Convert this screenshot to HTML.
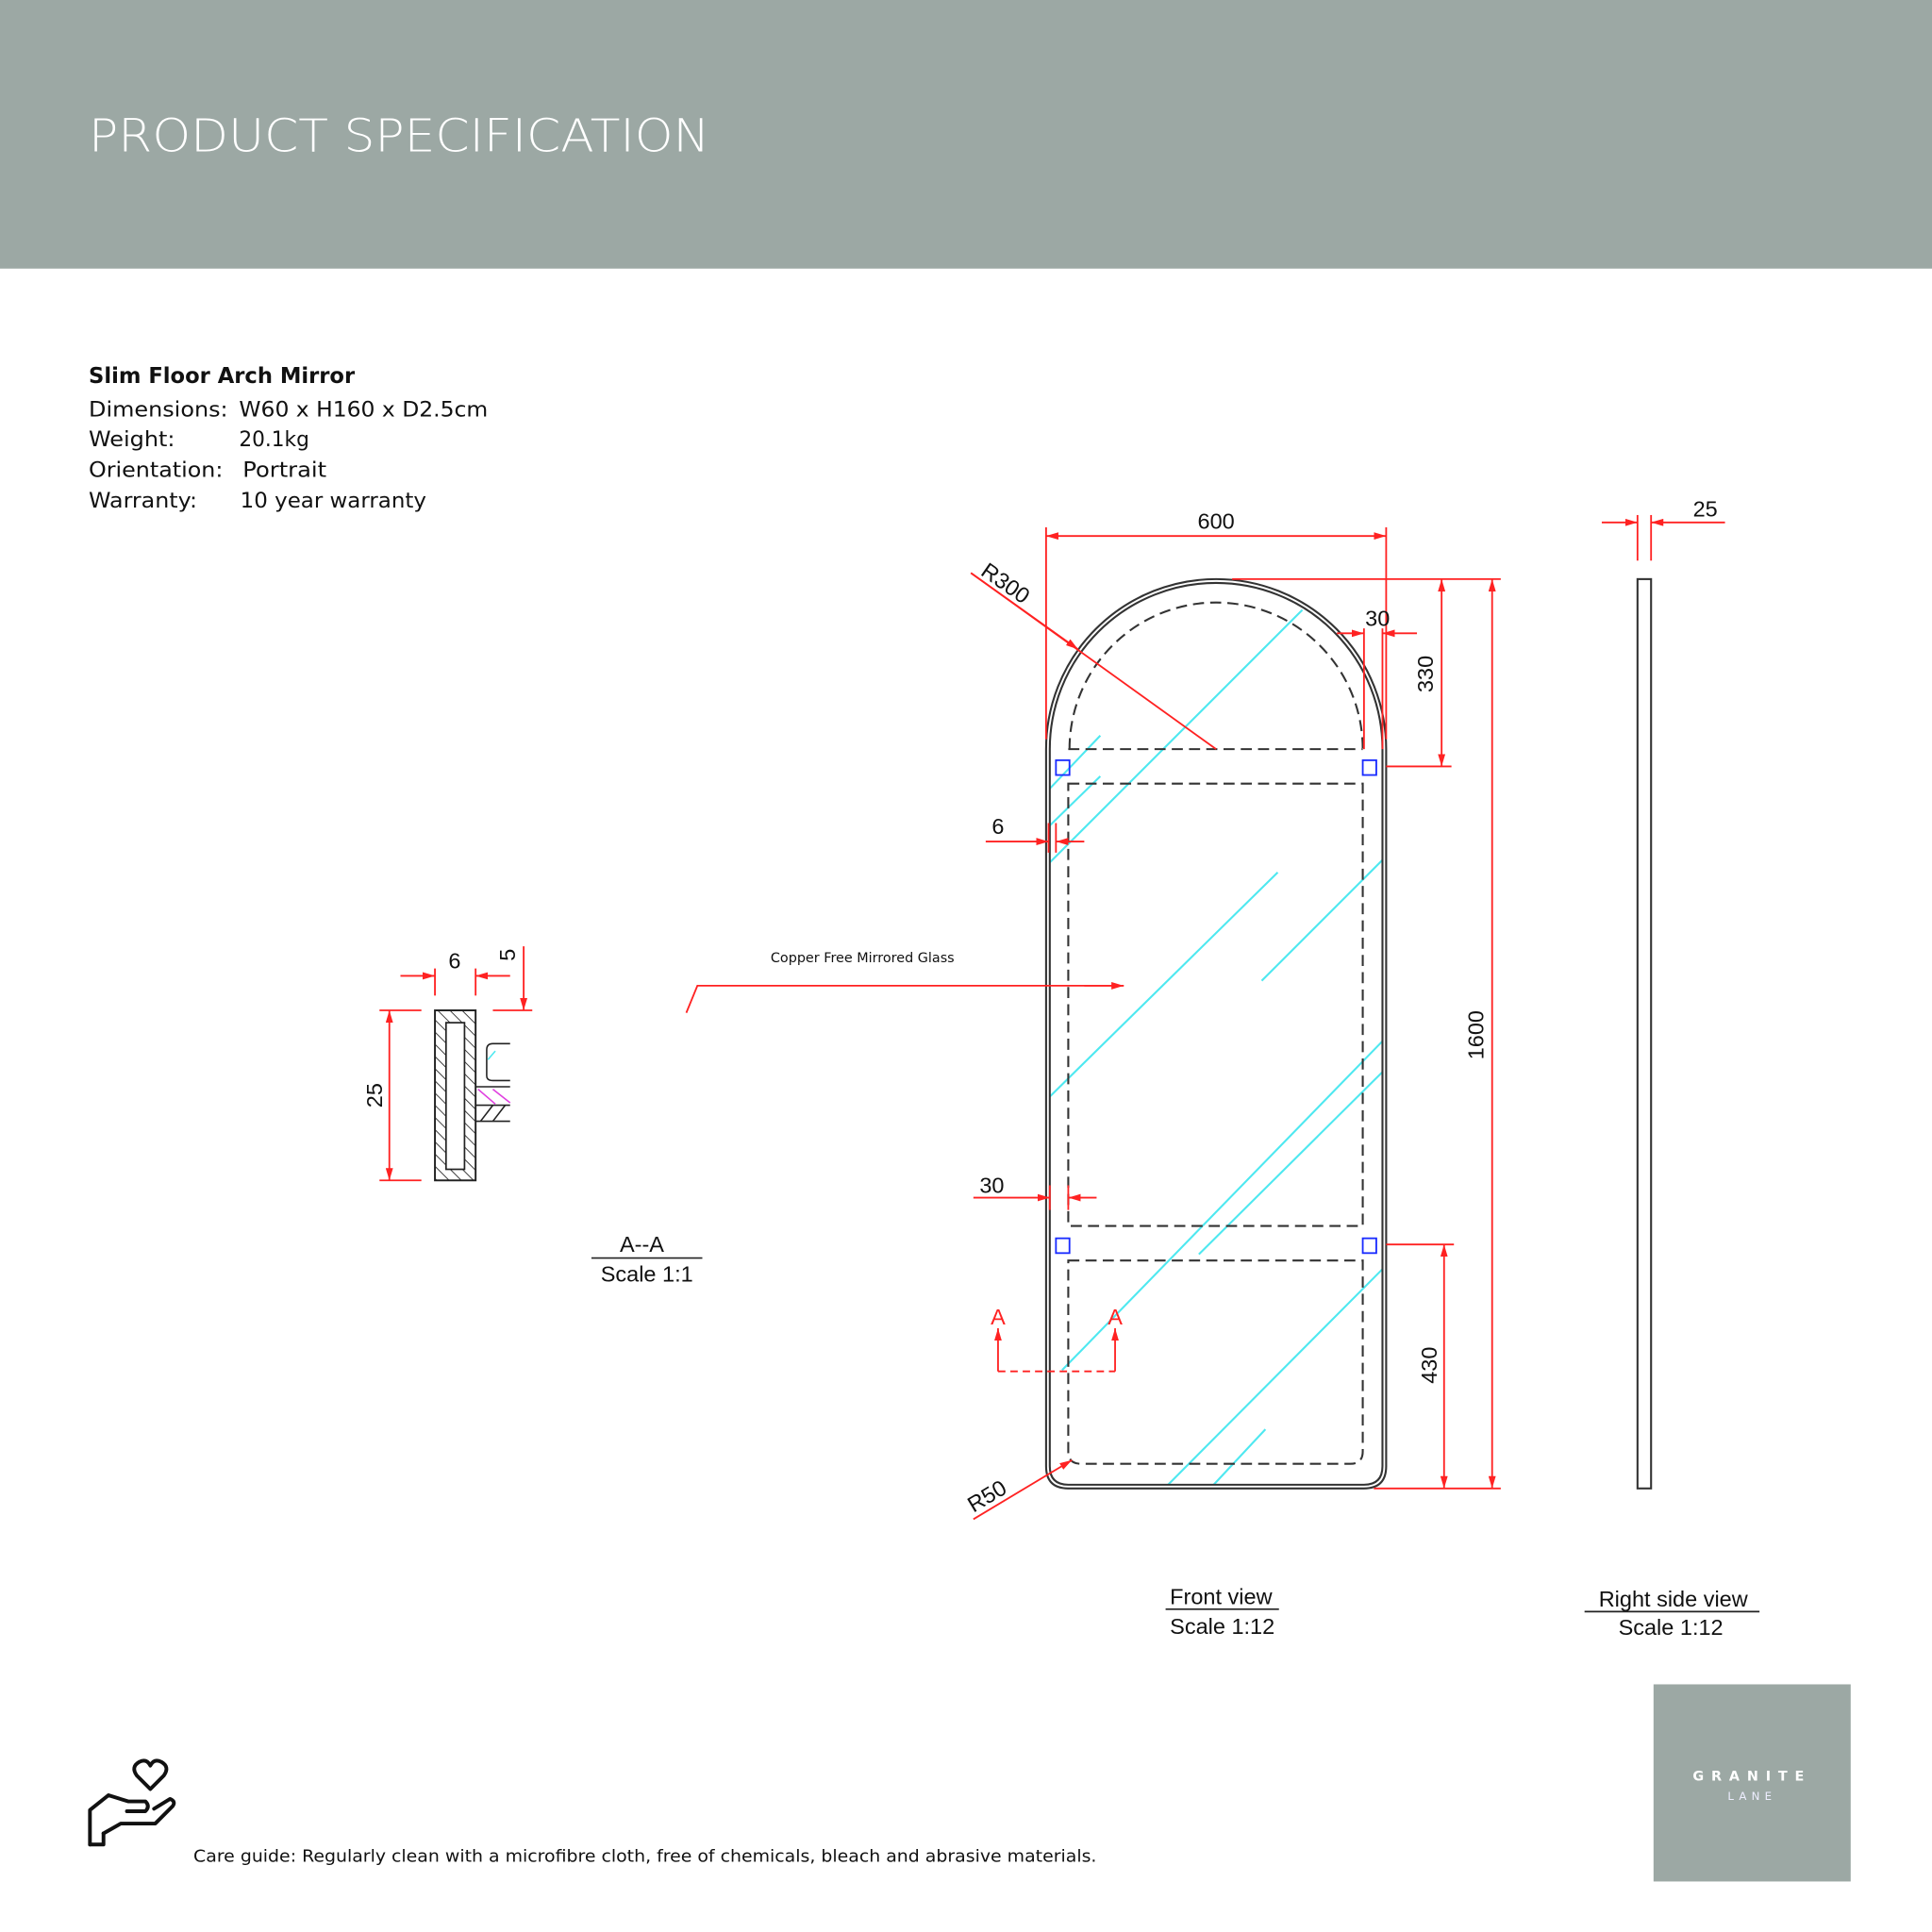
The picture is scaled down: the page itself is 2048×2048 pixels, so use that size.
<!DOCTYPE html>
<html><head><meta charset="utf-8"><style>html,body{margin:0;padding:0;background:#fff}svg{display:block}</style></head>
<body>
<svg width="2048" height="2048" viewBox="0 0 1568 1568" xmlns="http://www.w3.org/2000/svg">
<defs>
<marker id="ar" viewBox="0 0 10 6" refX="10" refY="3" markerWidth="10" markerHeight="6" orient="auto-start-reverse" markerUnits="userSpaceOnUse"><path d="M0,0L10,3L0,6z" fill="#f22"/></marker>
<pattern id="hatch" width="7" height="7" patternUnits="userSpaceOnUse" patternTransform="rotate(-45)"><line x1="0" y1="0" x2="0" y2="7" stroke="#222" stroke-width="1.3"/></pattern>
</defs>
<rect x="0" y="0" width="1568" height="218" fill="#9ca8a4"/>
<text x="72" y="123" font-family="DejaVu Sans, Liberation Sans, sans-serif" font-size="37" font-weight="300" fill="#fff" textLength="504" lengthAdjust="spacingAndGlyphs">PRODUCT SPECIFICATION</text>

<g font-family="DejaVu Sans, Liberation Sans, sans-serif" fill="#111" font-size="17">
<text x="72" y="311" font-weight="bold" font-size="18" textLength="216" lengthAdjust="spacingAndGlyphs">Slim Floor Arch Mirror</text>
<text x="72" y="338" textLength="113" lengthAdjust="spacingAndGlyphs">Dimensions:</text>
<text x="194" y="338" textLength="202" lengthAdjust="spacingAndGlyphs">W60 x H160 x D2.5cm</text>
<text x="72" y="362" textLength="70" lengthAdjust="spacingAndGlyphs">Weight:</text>
<text x="194" y="362" textLength="57" lengthAdjust="spacingAndGlyphs">20.1kg</text>
<text x="72" y="387" textLength="109" lengthAdjust="spacingAndGlyphs">Orientation:</text>
<text x="197" y="387" textLength="68" lengthAdjust="spacingAndGlyphs">Portrait</text>
<text x="72" y="412" textLength="88" lengthAdjust="spacingAndGlyphs">Warranty:</text>
<text x="195" y="412" textLength="151" lengthAdjust="spacingAndGlyphs">10 year warranty</text>
</g>

<!-- cyan reflections -->
<g stroke="#4ee8f0" stroke-width="1.6">
<line x1="852" y1="640" x2="893" y2="597"/>
<line x1="852" y1="670" x2="893" y2="630"/>
<line x1="852" y1="700" x2="1057" y2="495"/>
<line x1="852" y1="890" x2="1037" y2="708"/>
<line x1="1024" y1="796" x2="1122" y2="698"/>
<line x1="862" y1="1112" x2="1122" y2="845"/>
<line x1="973" y1="1018" x2="1122" y2="870"/>
<line x1="948" y1="1205" x2="1122" y2="1030"/>
<line x1="985" y1="1205" x2="1027" y2="1160"/>
</g>

<!-- front view outline -->
<g fill="none" stroke="#333" stroke-width="1.6">
<path d="M849,608 A138,138 0 0 1 1125,608 L1125,1190 Q1125,1208 1107,1208 L867,1208 Q849,1208 849,1190 Z"/>
<path d="M852,608 A135,135 0 0 1 1122,608 L1122,1190 Q1122,1205 1107,1205 L867,1205 Q852,1205 852,1190 Z"/>
</g>
<g fill="none" stroke="#333" stroke-width="1.6" stroke-dasharray="9,5">
<path d="M868,608 A119,119 0 0 1 1106,608"/>
<line x1="867" y1="608" x2="1106" y2="608"/>
<rect x="867" y="636" width="239" height="359"/>
<path d="M867,1023 L1106,1023 L1106,1178 Q1106,1188 1096,1188 L877,1188 Q867,1188 867,1178 Z"/>
</g>
<g fill="none" stroke="#1a2cff" stroke-width="1.4">
<rect x="857" y="617" width="11" height="12"/><rect x="1106" y="617" width="11" height="12"/>
<rect x="857" y="1005" width="11" height="12"/><rect x="1106" y="1005" width="11" height="12"/>
</g>

<!-- dimensions front -->
<g stroke="#f22" stroke-width="1.4" fill="none">
<line x1="849" y1="428" x2="849" y2="600"/><line x1="1125" y1="428" x2="1125" y2="600"/>
<line x1="849" y1="435" x2="1125" y2="435" marker-start="url(#ar)" marker-end="url(#ar)"/>
<line x1="788" y1="465" x2="987" y2="608"/>
<line x1="788" y1="465" x2="875" y2="527" marker-end="url(#ar)"/>
<line x1="1107" y1="510" x2="1107" y2="608"/><line x1="1122" y1="510" x2="1122" y2="608"/>
<line x1="1085" y1="514" x2="1107" y2="514" marker-end="url(#ar)"/>
<line x1="1150" y1="514" x2="1122" y2="514" marker-end="url(#ar)"/>
<line x1="1000" y1="470" x2="1218" y2="470"/>
<line x1="1125" y1="622" x2="1178" y2="622"/>
<line x1="1170" y1="470" x2="1170" y2="622" marker-start="url(#ar)" marker-end="url(#ar)"/>
<line x1="1211" y1="470" x2="1211" y2="1208" marker-start="url(#ar)" marker-end="url(#ar)"/>
<line x1="1125" y1="1010" x2="1180" y2="1010"/>
<line x1="1115" y1="1208" x2="1218" y2="1208"/>
<line x1="1172" y1="1010" x2="1172" y2="1208" marker-start="url(#ar)" marker-end="url(#ar)"/>
<line x1="851" y1="668" x2="851" y2="692"/><line x1="857" y1="668" x2="857" y2="692"/>
<line x1="800" y1="683" x2="851" y2="683" marker-end="url(#ar)"/>
<line x1="880" y1="683" x2="857" y2="683" marker-end="url(#ar)"/>
<line x1="852" y1="962" x2="852" y2="982"/><line x1="867" y1="962" x2="867" y2="982"/>
<line x1="790" y1="972" x2="852" y2="972" marker-end="url(#ar)"/>
<line x1="890" y1="972" x2="867" y2="972" marker-end="url(#ar)"/>
<line x1="810" y1="1113" x2="905" y2="1113" stroke-dasharray="6,4"/>
<line x1="810" y1="1113" x2="810" y2="1078" marker-end="url(#ar)"/>
<line x1="905" y1="1113" x2="905" y2="1078" marker-end="url(#ar)"/>
<line x1="790" y1="1233" x2="870" y2="1185" marker-end="url(#ar)"/>
<polyline points="557,822 566,800 912,800" /><line x1="880" y1="800" x2="912" y2="800" marker-end="url(#ar)"/>
<!-- side view dim -->
<line x1="1329" y1="418" x2="1329" y2="455"/><line x1="1340" y1="418" x2="1340" y2="455"/>
<line x1="1300" y1="424" x2="1329" y2="424" marker-end="url(#ar)"/>
<line x1="1400" y1="424" x2="1340" y2="424" marker-end="url(#ar)"/>
<!-- section dims -->
<line x1="353" y1="786" x2="353" y2="808"/><line x1="386" y1="786" x2="386" y2="808"/>
<line x1="325" y1="792" x2="353" y2="792" marker-end="url(#ar)"/>
<line x1="414" y1="792" x2="386" y2="792" marker-end="url(#ar)"/>
<line x1="425" y1="768" x2="425" y2="820" marker-end="url(#ar)"/>
<line x1="400" y1="820" x2="432" y2="820"/>
<line x1="308" y1="820" x2="342" y2="820"/><line x1="308" y1="958" x2="342" y2="958"/>
<line x1="316" y1="820" x2="316" y2="958" marker-start="url(#ar)" marker-end="url(#ar)"/>
</g>
<g font-family="Liberation Sans, sans-serif" font-size="18" fill="#111">
<text x="987" y="429" text-anchor="middle">600</text>
<text x="0" y="0" transform="translate(795,466) rotate(35)">R300</text>
<text x="1118" y="508" text-anchor="middle">30</text>
<text transform="translate(1163,547) rotate(-90)" text-anchor="middle">330</text>
<text transform="translate(1204,840) rotate(-90)" text-anchor="middle">1600</text>
<text transform="translate(1166,1108) rotate(-90)" text-anchor="middle">430</text>
<text x="810" y="677" text-anchor="middle">6</text>
<text x="805" y="968" text-anchor="middle">30</text>
<text transform="translate(790,1228) rotate(-31)">R50</text>
<text x="1384" y="419" text-anchor="middle">25</text>
<text x="369" y="786" text-anchor="middle">6</text>
<text transform="translate(418,775) rotate(-90)" text-anchor="middle">5</text>
<text transform="translate(310,889) rotate(-90)" text-anchor="middle">25</text>
<text x="810" y="1075" text-anchor="middle" fill="#f22">A</text>
<text x="905" y="1075" text-anchor="middle" fill="#f22">A</text>
<text x="521" y="1016" text-anchor="middle">A--A</text>
<text x="525" y="1040" text-anchor="middle">Scale 1:1</text>
<text x="991" y="1302" text-anchor="middle">Front view</text>
<text x="992" y="1326" text-anchor="middle">Scale 1:12</text>
<text x="1358" y="1304" text-anchor="middle">Right side view</text>
<text x="1356" y="1327" text-anchor="middle">Scale 1:12</text>
</g>
<g stroke="#222" stroke-width="1.3">
<line x1="480" y1="1021" x2="570" y2="1021"/>
<line x1="946" y1="1306" x2="1038" y2="1306"/>
<line x1="1286" y1="1308" x2="1428" y2="1308"/>
</g>
<text x="700" y="781" text-anchor="middle" font-family="DejaVu Sans, sans-serif" font-size="11" fill="#111">Copper Free Mirrored Glass</text>

<!-- right side view -->
<rect x="1329" y="470" width="11" height="738" fill="none" stroke="#333" stroke-width="1.6"/>

<!-- section A-A -->
<rect x="353" y="820" width="33" height="138" fill="url(#hatch)" stroke="#222" stroke-width="1.5"/>
<rect x="362" y="830" width="15" height="119" fill="#fff" stroke="#222" stroke-width="1.3"/>
<g fill="none" stroke="#222" stroke-width="1.2">
<path d="M414,847 L400,847 Q395,847 395,852 L395,873 Q395,877 400,877 L414,877"/>
<line x1="386" y1="882" x2="414" y2="882"/><line x1="386" y1="897" x2="414" y2="897"/><line x1="386" y1="910" x2="414" y2="910"/>
</g>
<g stroke="#e040e0" stroke-width="1.2"><line x1="388" y1="884" x2="402" y2="896"/><line x1="400" y1="884" x2="414" y2="895"/></g>
<g stroke="#222" stroke-width="1.2"><line x1="390" y1="910" x2="400" y2="897"/><line x1="400" y1="910" x2="410" y2="897"/></g>
<line x1="396" y1="860" x2="402" y2="853" stroke="#4ee8f0" stroke-width="1.2"/>

<!-- logo -->
<rect x="1342" y="1367" width="160" height="160" fill="#9ca8a4"/>
<text x="1422" y="1445" text-anchor="middle" font-family="DejaVu Sans, sans-serif" font-size="11" font-weight="bold" fill="#fff" letter-spacing="6">GRANITE</text>
<text x="1422" y="1461" text-anchor="middle" font-family="DejaVu Sans, sans-serif" font-size="9" fill="#eef" letter-spacing="4">LANE</text>

<!-- care icon -->
<g fill="none" stroke="#111" stroke-width="3" stroke-linejoin="round" stroke-linecap="round">
<path d="M122,1452 L111,1441 Q106,1434 113,1430 Q119,1427 122,1433 Q125,1427 131,1430 Q138,1434 133,1441 Z"/>
<path d="M73,1497 L73,1469 L88,1457 L104,1462 L118,1462 Q122,1466 118,1470 L103,1470"/>
<path d="M84,1488 L98,1480 L126,1480 L140,1466 Q143,1462 138,1460 L125,1468"/>
<path d="M73,1497 L84,1497 L84,1488"/>
</g>
<text x="157" y="1511" font-family="DejaVu Sans, sans-serif" font-size="13.5" fill="#111" textLength="733" lengthAdjust="spacingAndGlyphs">Care guide:  Regularly clean with a microfibre cloth, free of chemicals, bleach and abrasive materials.</text>
</svg>
</body></html>
